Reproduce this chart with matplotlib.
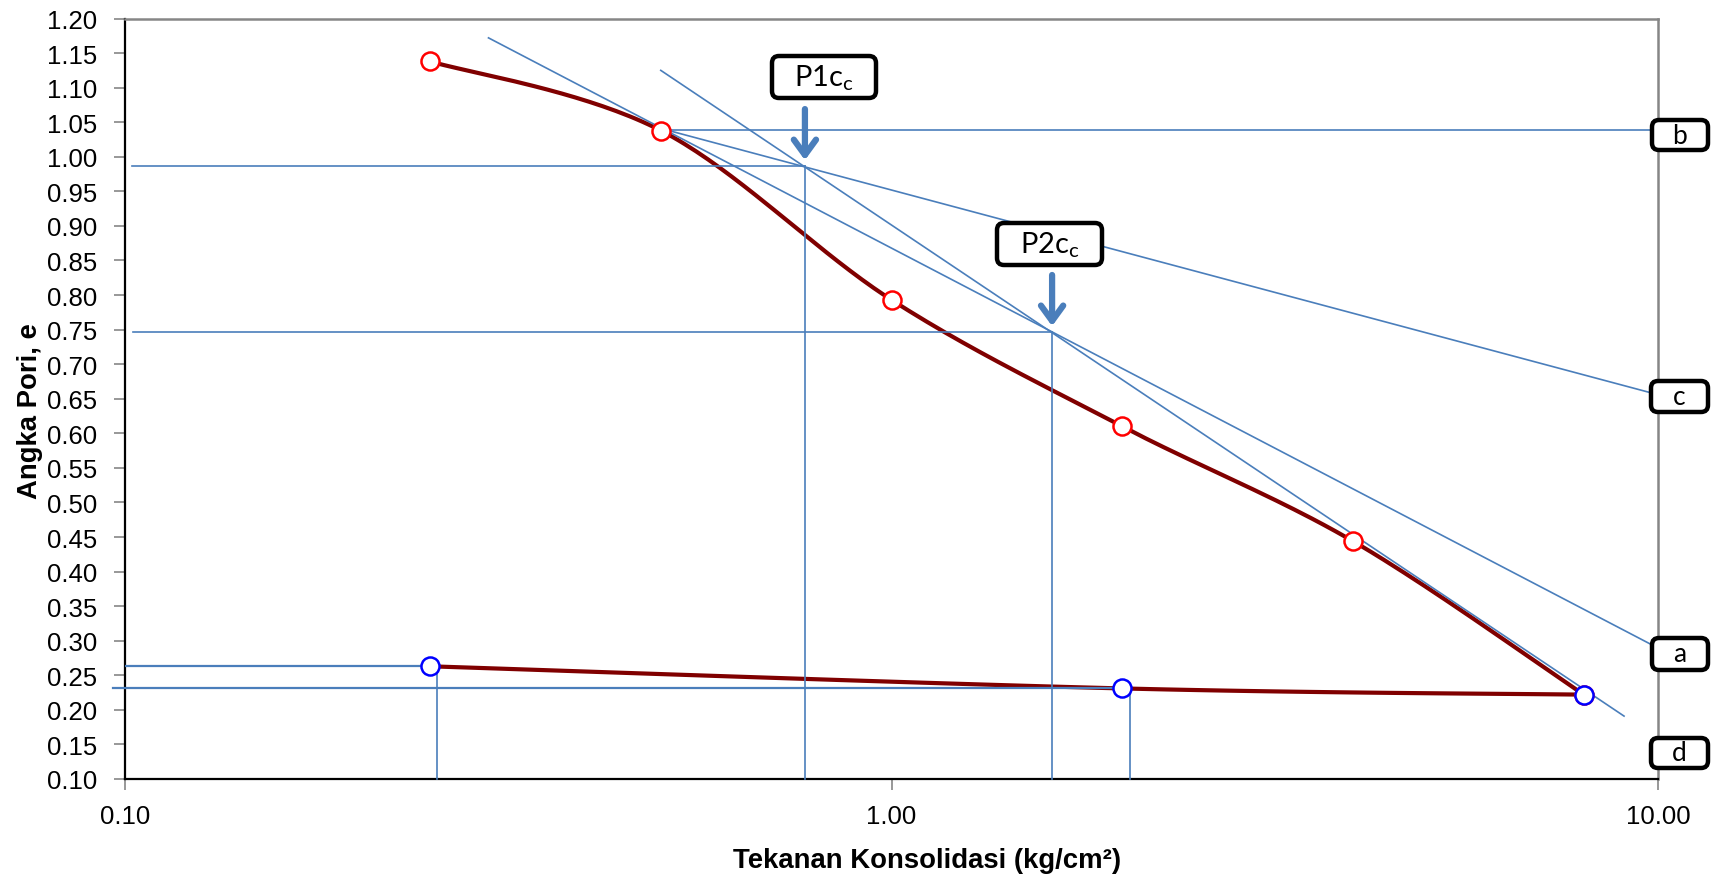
import numpy as np
import matplotlib
matplotlib.use("Agg")
import matplotlib.pyplot as plt
from matplotlib.patches import FancyBboxPatch
from matplotlib.transforms import IdentityTransform

plt.rcParams['font.family'] = ['Liberation Sans', 'DejaVu Sans']
plt.rcParams['mathtext.fontset'] = 'custom'
plt.rcParams['mathtext.rm'] = 'Lato'

W, H = 1713, 878

# compression branch (beban)
p_load = [0.25, 0.5, 1.0, 2.0, 4.0, 8.0]
e_load = [1.138, 1.038, 0.793, 0.610, 0.444, 0.222]
# rebound branch
p_unload = [8.0, 2.0, 0.25]
e_unload = [0.222, 0.231, 0.263]

# casagrande construction lines (x, e)
line_b = ([0.514, 10.0], [1.039, 1.039])
line_c = ([0.5, 9.76], [1.041, 0.659])
line_a = ([0.298, 9.82], [1.172, 0.294])
line_virgin = ([0.50, 9.03], [1.125, 0.191])
p1 = (0.771, 0.986)
p2 = (1.62, 0.746)
x_h1_start = 0.1021
x_h2_start = 0.1024
x_h4_start = 0.0965
x_v3 = 0.255
x_v4 = 2.05

blue = '#4a7ebb'
red_line = '#800000'


def smooth(px, py, n=40):
    # excel style bezier smoothing in log-x space
    P = np.column_stack([np.log10(px), py])
    P = np.vstack([P[0], P, P[-1]])
    out = []
    t = np.linspace(0, 1, n)[:, None]
    for i in range(1, len(P) - 2):
        a, b, c, d = P[i - 1], P[i], P[i + 1], P[i + 2]
        c1 = b + (c - a) / 6
        c2 = c - (d - b) / 6
        seg = (1 - t)**3 * b + 3 * (1 - t)**2 * t * c1 + 3 * (1 - t) * t**2 * c2 + t**3 * c
        out.append(seg)
    out = np.vstack(out)
    return 10**out[:, 0], out[:, 1]


fig = plt.figure(figsize=(W / 100, H / 100), dpi=100)
ax = fig.add_axes([125 / W, 1 - 780 / H, (1658 - 125) / W, (780 - 19.5) / H])
ax.set_xscale('log')
ax.set_xlim(0.1, 10)
ax.set_ylim(0.10, 1.20)

xs, ys = smooth(p_load, e_load)
ax.plot(xs, ys, color=red_line, lw=3, zorder=2, solid_capstyle='round')
xs, ys = smooth(p_unload, e_unload)
ax.plot(xs, ys, color=red_line, lw=3, zorder=2, solid_capstyle='round')

lk = dict(color=blue, lw=1.2, zorder=3, clip_on=False)
ax.plot(*line_b, **lk)
ax.plot(*line_c, **lk)
ax.plot(*line_a, **lk)
ax.plot(*line_virgin, **lk)
ax.plot([x_h1_start, p1[0]], [p1[1], p1[1]], **lk)
ax.plot([p1[0], p1[0]], [p1[1], 0.10], **lk)
ax.plot([x_h2_start, p2[0]], [p2[1], p2[1]], **lk)
ax.plot([p2[0], p2[0]], [p2[1], 0.10], **lk)
ax.plot([0.1, p_unload[2]], [e_unload[2], e_unload[2]], color=blue, lw=1.6, zorder=3)
ax.plot([x_v3, x_v3], [e_unload[2], 0.10], **lk)
ax.plot([x_h4_start, p_unload[1]], [e_unload[1], e_unload[1]], color=blue, lw=1.6, zorder=3, clip_on=False)
ax.plot([x_v4, x_v4], [e_unload[1], 0.10], **lk)

ax.plot(p_load, e_load, 'o', ms=13, mfc='white', mec='#ff0000', mew=1.8, zorder=4)
ax.plot(p_unload, e_unload, 'o', ms=13, mfc='white', mec='#0000ff', mew=1.8, zorder=5)

# arrows pointing at the intersection points
for (px, py) in (p1, p2):
    ax.annotate('', xy=(px, py + 0.009), xytext=(px, py + 0.083),
                arrowprops=dict(arrowstyle='->,head_length=0.55,head_width=0.4',
                                mutation_scale=20, lw=4.5, color=blue,
                                shrinkA=0, shrinkB=0), zorder=6)

ax.set_yticks(np.round(np.arange(0.10, 1.201, 0.05), 2))
ax.yaxis.set_major_formatter(plt.FuncFormatter(lambda v, _: f'{v:.2f}'))
ax.set_xticks([0.1, 1, 10])
ax.set_xticklabels(['0.10', '1.00', '10.00'])
ax.minorticks_off()
ax.tick_params(axis='y', direction='out', length=8, width=1.2, color='#868686',
               pad=12, labelsize=18.5)
ax.tick_params(axis='x', direction='out', length=8, width=1.2, color='#868686',
               pad=10, labelsize=18.5)

for s in ('top', 'right'):
    ax.spines[s].set_color('#868686')
    ax.spines[s].set_linewidth(1.8)
for s in ('left', 'bottom'):
    ax.spines[s].set_color('black')
    ax.spines[s].set_linewidth(1.6)

fig.text(927 / W, 1 - 861 / H, 'Tekanan Konsolidasi (kg/cm²)', ha='center', va='center',
         fontsize=19.8, fontweight='bold')
fig.text(30 / W, 1 - 411 / H, 'Angka Pori, e', ha='center', va='center', rotation=90,
         fontsize=19.8, fontweight='bold')


def label_box(x0, y0, x1, y1, txt, size):
    # box given in pixels from top-left corner
    patch = FancyBboxPatch((x0, H - y1), x1 - x0, y1 - y0,
                           boxstyle='round,pad=0,rounding_size=7',
                           transform=IdentityTransform(), fc='white', ec='black',
                           lw=3.2, zorder=10)
    fig.patches.append(patch)
    fig.text((x0 + x1) / 2 / W, 1 - (y0 + y1) / 2 / H, txt, ha='center', va='center',
             fontsize=size, family='Lato', zorder=11)


label_box(772, 57, 876, 99, 'P1$\\mathrm{c}_\\mathrm{c}$', 21)
label_box(997, 224, 1102, 266, 'P2$\\mathrm{c}_\\mathrm{c}$', 21)
label_box(1652, 121, 1708, 151, 'b', 19)
label_box(1651, 382, 1708, 413, 'c', 19)
label_box(1652, 639, 1708, 671, 'a', 19)
label_box(1651, 739, 1708, 769, 'd', 19)

fig.savefig('out.png', dpi=100)
